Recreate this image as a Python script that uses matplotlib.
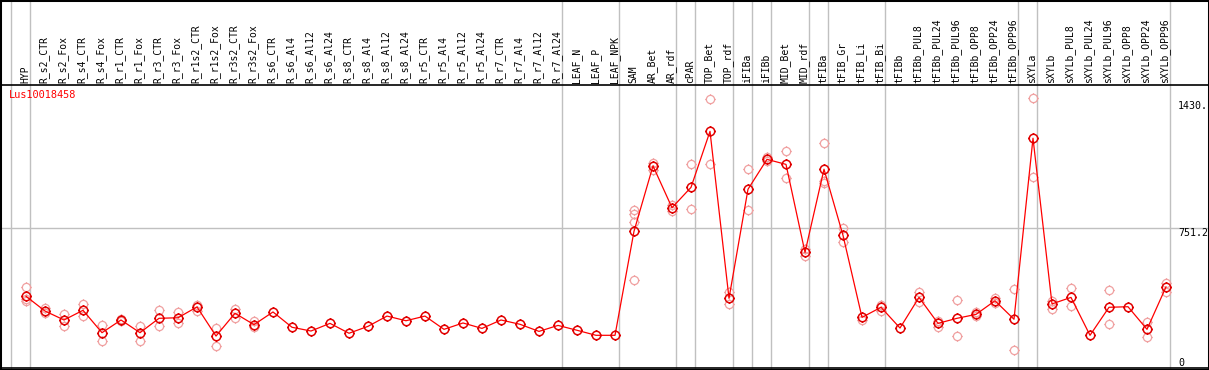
import matplotlib
matplotlib.use("Agg")
import matplotlib.pyplot as plt
from matplotlib.path import Path
from matplotlib.patches import Rectangle
import numpy as np

gene = "Lus10018458"

labels = [
    "HYP", "R_s2_CTR", "R_s2_Fox", "R_s4_CTR", "R_s4_Fox", "R_r1_CTR", "R_r1_Fox",
    "R_r3_CTR", "R_r3_Fox", "R_r1s2_CTR", "R_r1s2_Fox", "R_r3s2_CTR", "R_r3s2_Fox",
    "R_s6_CTR", "R_s6_Al4", "R_s6_Al12", "R_s6_Al24", "R_s8_CTR", "R_s8_Al4",
    "R_s8_Al12", "R_s8_Al24", "R_r5_CTR", "R_r5_Al4", "R_r5_Al12", "R_r5_Al24",
    "R_r7_CTR", "R_r7_Al4", "R_r7_Al12", "R_r7_Al24", "LEAF_N", "LEAF_P", "LEAF_NPK",
    "SAM", "AR_Bet", "AR_rdf", "cPAR", "TOP_Bet", "TOP_rdf", "iFIBa", "iFIBb",
    "MID_Bet", "MID_rdf", "tFIBa", "tFIB_Gr", "tFIB_Li", "tFIB_Bi", "tFIBb",
    "tFIBb_PUL8", "tFIBb_PUL24", "tFIBb_PUL96", "tFIBb_OPP8", "tFIBb_OPP24",
    "tFIBb_OPP96", "sXYLa", "sXYLb", "sXYLb_PUL8", "sXYLb_PUL24", "sXYLb_PUL96",
    "sXYLb_OPP8", "sXYLb_OPP24", "sXYLb_OPP96",
]

# mean expression per sample
means = [
    384, 305, 257, 309, 189, 257, 189, 266, 269, 327, 171, 293, 232,
    300, 218, 198, 239, 186, 223, 278, 253, 278, 207, 241, 212,
    257, 234, 196, 228, 202, 175, 175,
    732, 1082, 858, 967, 1267, 373, 957, 1117, 1090, 619, 1064, 710, 271, 325,
    214, 378, 239, 266, 287, 360, 261,
    1230, 343, 378, 175, 325, 328, 207, 434,
]

# individual replicates
reps = [
    [434, 372, 359], [319, 293], [287, 227], [341, 280], [230, 143], [262, 252],
    [225, 143], [309, 223], [301, 243], [337, 305], [216, 119], [318, 266], [253, 221],
    [], [], [], [], [], [], [], [], [], [], [], [], [], [], [], [], [], [], [],
    [846, 824, 780, 473], [1099, 1060], [873, 842], [1090, 850], [1440, 1092],
    [407, 341], [1064, 844], [1131, 1110], [1160, 1019], [639, 600],
    [1203, 1001, 989], [751, 676], [259], [339, 305],
    [], [405, 355], [252, 221], [364, 173], [300, 276], [375, 346], [421, 95],
    [1444, 1021], [359, 316], [428, 332], [], [418, 234], [], [246, 164], [457, 409],
]

# sizes of sample groups (separated by grey lines)
groups = [1, 28, 3, 3, 1, 2, 1, 1, 2, 1, 3, 7, 1, 7]

y_ticks = [1430, 751.2, 0]
y_tick_text = ["1430.", "751.2", "0"]

W, H = 1209, 370
fig = plt.figure(figsize=(W / 100, H / 100), dpi=100)
ax = fig.add_axes([0, 2 / H, 1, 283 / H])

x = np.arange(len(labels))
ax.set_xlim((0 - 26) / 19, (W - 26) / 19)
ax.set_ylim(0, 1515)

# circle marker with four little ticks
circ = Path.unit_circle()
tk = 1.25
tick_v = [(0, 1), (0, tk), (0, -1), (0, -tk), (1, 0), (tk, 0), (-1, 0), (-tk, 0)]
tick_c = [Path.MOVETO, Path.LINETO] * 4
mk = Path.make_compound_path(circ, Path(tick_v, tick_c))

grid_c = "#c0c0c0"
ax.axhline(751.2, color=grid_c, lw=1, zorder=1)
bounds = np.cumsum([0] + groups) - 1
for b in bounds:
    ax.axvline(b + 0.22, ymin=0, ymax=1 + 85 / 283, color=grid_c, lw=1,
               clip_on=False, zorder=1)

for i, r in enumerate(reps):
    if r:
        ax.plot([i] * len(r), r, linestyle="none", marker=mk, markersize=7.4,
                markerfacecolor="none", markeredgecolor="#f0a0a0", mew=0.9, zorder=2)

ax.plot(x, means, color="#ff0000", lw=0.9, zorder=3)
ax.plot(x, means, linestyle="none", marker=mk, markersize=7.6,
        markerfacecolor="none", markeredgecolor="#e00000", mew=1.1, zorder=4)

for i, lab in enumerate(labels):
    ax.annotate(lab, (i - 0.05, 1), xycoords=("data", "axes fraction"),
                xytext=(0, 2), textcoords="offset pixels", rotation=90,
                ha="center", va="bottom", fontsize=7, family="DejaVu Sans Mono",
                annotation_clip=False)

xr = (1178 - 26) / 19
for v, t in zip(y_ticks, y_tick_text):
    ax.text(xr, v, t, ha="left", va="bottom" if v == 0 else "top",
            fontsize=7.2, family="DejaVu Sans Mono", clip_on=False)

ax.text(9 / W, 1 - 5 / 283, gene, transform=ax.transAxes, ha="left", va="top",
        color="#ff0000", fontsize=7.4, family="DejaVu Sans Mono")

ax.set_xticks([])
ax.set_yticks([])
for s in ("left", "right"):
    ax.spines[s].set_visible(False)
for s in ("top", "bottom"):
    ax.spines[s].set_color("black")
    ax.spines[s].set_linewidth(1.2)

fig.patches.append(Rectangle((0, 0), 1, 1, transform=fig.transFigure, fill=False,
                             edgecolor="black", lw=2.2))

fig.savefig("out.png", dpi=100)
